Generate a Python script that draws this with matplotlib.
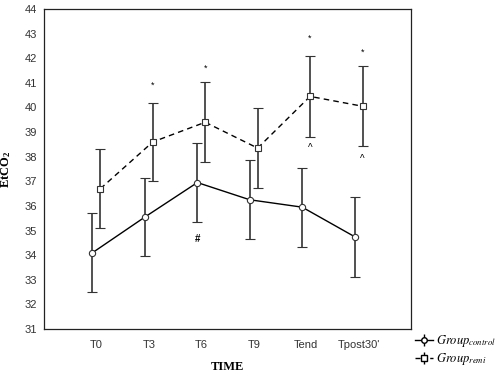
import matplotlib
matplotlib.use("Agg")
import matplotlib.pyplot as plt
import numpy as np

categories = ["T0", "T3", "T6", "T9", "Tend", "Tpost30'"]
control_mean = [34.1, 35.55, 36.95, 36.25, 35.95, 34.75]
control_err = [1.6, 1.6, 1.6, 1.6, 1.6, 1.62]
remi_mean = [36.7, 38.6, 39.4, 38.35, 40.45, 40.05]
remi_err = [1.6, 1.6, 1.63, 1.63, 1.63, 1.63]
star_y = [None, 40.9, 41.6, None, 42.8, 42.25]
caret_y = [None, None, None, None, 38.35, 37.9]
hash_y = [None, None, 34.65, None, None, None]

plt.rcParams['mathtext.fontset'] = 'stix'
fig = plt.figure(figsize=(5, 3.76), dpi=100)
ax = fig.add_axes([0.088, 0.125, 0.734, 0.851])

x = np.arange(len(categories))
off = 0.075
ax.errorbar(x - off, control_mean, yerr=control_err, fmt='-', color='black', lw=1.0,
            ecolor='#333333', elinewidth=1.2, capsize=3.5, capthick=1.0,
            marker='o', ms=4.5, mfc='white', mec='#333333', mew=0.8, zorder=3)
ax.errorbar(x + off, remi_mean, yerr=remi_err, fmt='--', color='black', lw=1.0,
            dashes=(4, 3), ecolor='#333333', elinewidth=1.2, capsize=3.5, capthick=1.0,
            marker='s', ms=5, mfc='white', mec='#333333', mew=0.8, zorder=3)

for i in range(len(categories)):
    if star_y[i] is not None:
        ax.text(x[i] + off, star_y[i], '*', ha='center', va='center', fontsize=6.5, family='Liberation Sans')
    if caret_y[i] is not None:
        ax.text(x[i] + off, caret_y[i], '^', ha='center', va='center', fontsize=7, family='Liberation Sans')
    if hash_y[i] is not None:
        ax.text(x[i] - off, hash_y[i], '#', ha='center', va='center', fontsize=7, family='Liberation Sans', fontweight='bold')

ax.set_xlim(-1, 6)
ax.set_ylim(31, 44)
ax.set_yticks(range(31, 45))
ax.set_xticks(x)
ax.set_xticklabels(categories)
for lab in ax.get_xticklabels():
    lab.set_fontfamily('Liberation Sans')
    lab.set_fontsize(8)
    lab.set_color('#333333')
for lab in ax.get_yticklabels():
    lab.set_fontfamily('Liberation Sans')
    lab.set_fontsize(8)
    lab.set_color('#333333')
ax.tick_params(axis='x', length=0, pad=8)
ax.tick_params(axis='y', length=0, pad=5)
for s in ax.spines.values():
    s.set_linewidth(0.9)
    s.set_color('#222222')

ax.set_xlabel('TIME', family='Liberation Serif', fontweight='bold', fontsize=9, labelpad=8)
ax.set_ylabel(r'EtCO$\mathregular{_2}$', family='Liberation Serif', fontweight='bold', fontsize=9, labelpad=8)

h1 = ax.errorbar([], [], yerr=[], fmt='-', color='black', lw=1.0, marker='o', ms=4,
                 mfc='white', mec='black', capsize=3)
h2 = ax.errorbar([], [], yerr=[], fmt='--', color='black', lw=1.0, marker='s', ms=4,
                 mfc='white', mec='black', capsize=3)
fig.legend([h1, h2], [r'$\mathit{Group}_{\mathit{control}}$', r'$\mathit{Group}_{\mathit{remi}}$'], loc='lower left',
           bbox_to_anchor=(0.82, 0.01), frameon=False, fontsize=9, handlelength=1.4,
           handletextpad=0.3, labelspacing=0.15, borderaxespad=0)

fig.savefig('out.png', dpi=100)
